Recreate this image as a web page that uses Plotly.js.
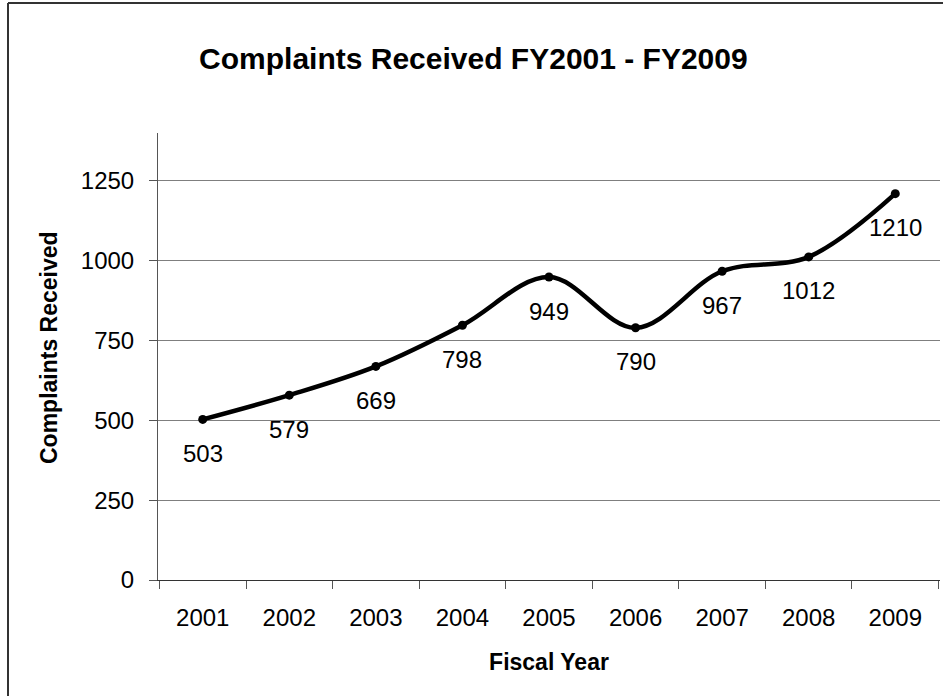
<!DOCTYPE html>
<html>
<head>
<meta charset="utf-8">
<script src="https://cdn.plot.ly/plotly-3.0.1.min.js"></script>
<style>
html,body{margin:0;padding:0;background:#fff;}
#chart{width:943px;height:696px;}
</style>
</head>
<body>
<div id="chart"></div>
<script>
const years = ['2001','2002','2003','2004','2005','2006','2007','2008','2009'];
const complaints = [503, 579, 669, 798, 949, 790, 967, 1012, 1210];
const yTicks = [0, 250, 500, 750, 1000, 1250];

const FONT = 'Liberation Sans, Arial, Helvetica, sans-serif';

const trace = {
  type: 'scatter',
  mode: 'lines+markers',
  x: years,
  y: complaints,
  line: {color: '#000', width: 4.5, shape: 'spline', smoothing: 1},
  marker: {color: '#000', size: 9, symbol: 'circle'},
  hoverinfo: 'x+y'
};

const annotations = years.map((yr, i) => ({
  x: i, y: complaints[i], xref: 'x', yref: 'y',
  text: String(complaints[i]), showarrow: false,
  xanchor: 'center', yanchor: 'middle',
  yshift: -34,
  font: {family: FONT, size: 24, color: '#000'}
}));

annotations.push({
  xref: 'paper', yref: 'paper', x: (49 - 158) / 782, y: (580 - 347) / 447,
  xanchor: 'center', yanchor: 'middle',
  text: '<b>Complaints Received</b>', textangle: -90, showarrow: false,
  font: {family: FONT, size: 23, color: '#000'}
});

const layout = {
  width: 943, height: 696,
  paper_bgcolor: '#fff', plot_bgcolor: '#fff',
  margin: {l: 158, r: 3, t: 133, b: 116},
  showlegend: false,
  title: {
    text: '<b>Complaints Received FY2001 - FY2009</b>',
    x: 0.502, xref: 'container', xanchor: 'center',
    y: 1 - 58/696, yref: 'container', yanchor: 'middle',
    font: {family: FONT, size: 30, color: '#000'}
  },
  xaxis: {
    type: 'category',
    categoryorder: 'array', categoryarray: years,
    tickson: 'boundaries', tickangle: 0,
    ticks: 'outside', ticklen: 8, tickcolor: '#555', tickwidth: 1,
    ticklabelstandoff: 16,
    showline: true, linecolor: '#333', linewidth: 1,
    showgrid: false, zeroline: false,
    tickfont: {family: FONT, size: 24, color: '#000'},
    title: {text: '<b>Fiscal Year</b>', font: {family: FONT, size: 23, color: '#000'}, standoff: 24},
    fixedrange: true
  },
  yaxis: {
    range: [0, 1400],
    tickvals: yTicks,
    ticktext: yTicks.map(String),
    ticks: 'outside', ticklen: 8, tickcolor: '#555', tickwidth: 1,
    ticklabelstandoff: 10,
    showline: true, linecolor: '#555', linewidth: 1,
    showgrid: true, gridcolor: '#7f7f7f', gridwidth: 1,
    zeroline: false,
    tickfont: {family: FONT, size: 24, color: '#000'},
    fixedrange: true
  },
  annotations: annotations,
  shapes: [
    {type: 'line', xref: 'paper', yref: 'paper', x0: -150/782, x1: 1.1, y0: 1 + 130/447, y1: 1 + 130/447, line: {color: '#333', width: 2}},
    {type: 'line', xref: 'paper', yref: 'paper', x0: -150/782, x1: -150/782, y0: -0.4, y1: 1 + 130/447, line: {color: '#333', width: 2}}
  ]
};

Plotly.newPlot('chart', [trace], layout, {displayModeBar: false, staticPlot: true});
</script>
</body>
</html>
